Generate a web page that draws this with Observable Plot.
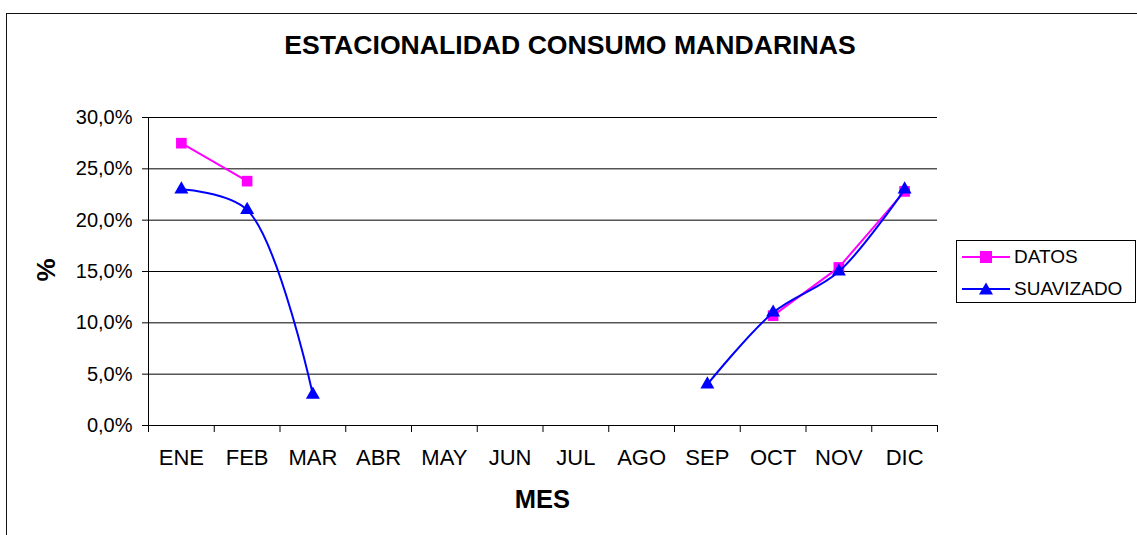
<!DOCTYPE html>
<html>
<head>
<meta charset="utf-8">
<script src="https://cdn.jsdelivr.net/npm/d3@7"></script>
<script src="https://cdn.jsdelivr.net/npm/@observablehq/plot@0.6"></script>
<style>
  html, body { margin: 0; padding: 0; background: #fff; }
  #wrap { position: relative; width: 1137px; height: 535px; overflow: hidden; font-family: "Liberation Sans", Arial, sans-serif; color: #000; }
  #frame { position: absolute; left: 6px; top: 13px; width: 1200px; height: 600px; border-left: 1.5px solid #111; border-top: 1.5px solid #111; }
  #chart { position: absolute; left: 0; top: 0; }
  .lbl { position: absolute; white-space: nowrap; font-weight: bold; }
  #title { left: 0; width: 1140px; text-align: center; top: 30px; font-size: 26.6px; }
  #xlabel { left: 0; width: 1085px; text-align: center; top: 485px; font-size: 25.5px; }
  #ylabel { left: 46px; top: 270px; font-size: 26px; transform: translate(-50%, -50%) rotate(-90deg); }
  #legend { position: absolute; left: 956px; top: 240px; width: 178px; height: 61px; border: 1px solid #000; background: #fff; }
  .entry { position: absolute; left: 5px; height: 24px; display: flex; align-items: center; font-size: 19px; }
  .entry svg { margin-right: 4px; }
</style>
</head>
<body>
<div id="wrap">
  <div id="frame"></div>
  <div id="chart"></div>
  <div class="lbl" id="title"></div>
  <div class="lbl" id="xlabel"></div>
  <div class="lbl" id="ylabel"></div>
  <div id="legend"></div>
</div>
<script>
// ---- data ----
const titleText = "ESTACIONALIDAD CONSUMO MANDARINAS";
const xTitle = "MES";
const yTitle = "%";
const months = ["ENE", "FEB", "MAR", "ABR", "MAY", "JUN", "JUL", "AGO", "SEP", "OCT", "NOV", "DIC"];
const seriesNames = ["DATOS", "SUAVIZADO"];
const seriesColors = ["#FF00FF", "#0000FF"];
const datos = [27.5, 23.8, null, null, null, null, null, null, null, 10.7, 15.4, 22.8];
const suavizado = [23.0, 21.0, 3.0, null, null, null, null, null, 4.0, 11.0, 15.0, 23.0];
const yTicks = [0, 5, 10, 15, 20, 25, 30];

// ---- build ----
const rows = months.map((m, i) => ({ i: i + 1, month: m, datos: datos[i], suavizado: suavizado[i] }));
const monthIdx = months.map((m, i) => i + 1);
const bounds = [0.5].concat(monthIdx.map(i => i + 0.5));
const fmtPct = d => d.toFixed(1).replace(".", ",") + "%";

const chart = Plot.plot({
  width: 1137,
  height: 535,
  marginLeft: 148,
  marginTop: 117,
  marginRight: 200,
  marginBottom: 110,
  style: { fontFamily: "Liberation Sans, Arial, sans-serif", color: "#000", background: "transparent", overflow: "visible" },
  x: { type: "linear", domain: [0.5, months.length + 0.5] },
  y: { domain: [0, 30] },
  marks: [
    Plot.gridY(yTicks, { stroke: "#000", strokeOpacity: 1, strokeWidth: 1 }),
    Plot.ruleX([0.5], { stroke: "#000" }),
    Plot.ruleY([0], { stroke: "#000" }),
    Plot.axisY(yTicks, { tickSize: 6, tickPadding: 10, tickFormat: fmtPct, fontSize: 20, label: null }),
    Plot.axisX(bounds, { tickSize: 7, tickFormat: () => "", label: null }),
    Plot.axisX(monthIdx, { tickSize: 0, tickPadding: 24, tickFormat: i => months[i - 1], fontSize: 22, label: null }),
    Plot.line(rows, { x: "i", y: "datos", stroke: seriesColors[0], strokeWidth: 2 }),
    Plot.dot(rows, { x: "i", y: "datos", symbol: "square", r: 6, fill: seriesColors[0], stroke: null }),
    Plot.line(rows, { x: "i", y: "suavizado", stroke: seriesColors[1], strokeWidth: 2, curve: "catmull-rom" }),
    Plot.dot(rows, { x: "i", y: "suavizado", symbol: "triangle", r: 5.2, fill: seriesColors[1], stroke: null })
  ]
});
document.getElementById("chart").appendChild(chart);

document.getElementById("title").textContent = titleText;
document.getElementById("xlabel").textContent = xTitle;
document.getElementById("ylabel").textContent = yTitle;

// legend
const legend = document.getElementById("legend");
seriesNames.forEach((name, k) => {
  const e = document.createElement("div");
  e.className = "entry";
  e.style.top = (k === 0 ? 4 : 36) + "px";
  const sym = k === 0
    ? '<rect x="18" y="6" width="12" height="12" fill="' + seriesColors[k] + '"/>'
    : '<path d="M24,5.5 L31,17.5 L17,17.5 Z" fill="' + seriesColors[k] + '"/>';
  e.innerHTML = '<svg width="48" height="24"><line x1="0" x2="48" y1="12" y2="12" stroke="' + seriesColors[k] + '" stroke-width="2"/>' + sym + '</svg><span>' + name + '</span>';
  legend.appendChild(e);
});
</script>
</body>
</html>
